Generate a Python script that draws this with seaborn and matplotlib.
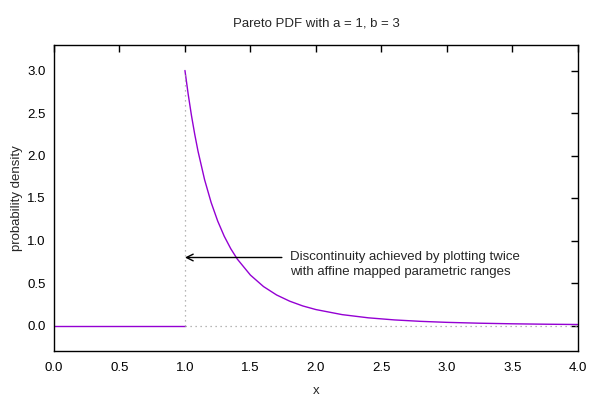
import matplotlib
matplotlib.use("Agg")
import matplotlib.pyplot as plt
import seaborn as sns

# Values
zero_x = [0.0, 1.0]
zero_y = [0.0, 0.0]
pdf_x = [1.0, 1.025, 1.05, 1.075, 1.1, 1.15, 1.2, 1.25, 1.3, 1.35, 1.4, 1.5, 1.6, 1.7, 1.8,
         1.9, 2.0, 2.2, 2.4, 2.6, 2.8, 3.0, 3.25, 3.5, 3.75, 4.0]
pdf_y = [3.0, 2.718, 2.468, 2.247, 2.049, 1.715, 1.447, 1.229, 1.050, 0.903, 0.781, 0.593,
         0.458, 0.359, 0.286, 0.230, 0.1875, 0.128, 0.0904, 0.0656, 0.0488, 0.037, 0.0269,
         0.020, 0.0152, 0.0117]
x_ticks = [0.0, 0.5, 1.0, 1.5, 2.0, 2.5, 3.0, 3.5, 4.0]
y_ticks = [0.0, 0.5, 1.0, 1.5, 2.0, 2.5, 3.0]
title = "Pareto PDF with a = 1, b = 3"
annotation = "Discontinuity achieved by plotting twice\nwith affine mapped parametric ranges"
arrow_tail = (1.74, 0.8)
arrow_head = (1.0, 0.8)
text_pos = (1.8, 0.8)

sns.set_style("white")
plt.rcParams['font.family'] = ['Liberation Sans', 'DejaVu Sans']
fs = 9.5
plt.rcParams['font.size'] = fs

fig, ax = plt.subplots(figsize=(6, 4), dpi=100)
fig.subplots_adjust(left=0.09, right=0.963, top=0.8875, bottom=0.1225)

color = "#9400D3"
sns.lineplot(x=zero_x, y=zero_y, ax=ax, color=color, lw=1, estimator=None, sort=False)
sns.lineplot(x=pdf_x, y=pdf_y, ax=ax, color=color, lw=1, estimator=None, sort=False)

# dotted guide lines
ax.plot([1, 1], [0, 3], color="#a0a0a0", lw=0.9, ls=(0, (1, 3)))
ax.plot([1, 4], [0, 0], color="#a0a0a0", lw=0.9, ls=(0, (1, 3)))

ax.annotate("", xy=arrow_head, xytext=arrow_tail,
            arrowprops=dict(arrowstyle="->", color="black", lw=1,
                            shrinkA=0, shrinkB=0, mutation_scale=12))
ax.text(text_pos[0], text_pos[1] + 0.075, annotation, ha="left", va="top",
        fontsize=fs, linespacing=1.35)

ax.set_xlim(0, 4)
ax.set_ylim(-0.3, 3.3)
ax.set_xticks(x_ticks)
ax.set_xticklabels([f"{v:.1f}" for v in x_ticks])
ax.set_yticks(y_ticks)
ax.set_yticklabels([f"{v:.1f}" for v in y_ticks])
ax.tick_params(direction="in", length=5, width=1, top=True, right=True, labelsize=fs,
               color="black", labelcolor="black")
ax.tick_params(axis="x", pad=8)
ax.tick_params(axis="y", pad=6)
for s in ax.spines.values():
    s.set_visible(True)
    s.set_color("black")
    s.set_linewidth(1)

ax.set_title(title, fontsize=fs, pad=13)
ax.set_xlabel("x", fontsize=fs, labelpad=8)
ax.set_ylabel("probability density", fontsize=fs, va="center")
ax.yaxis.set_label_coords(-0.07, 0.5)

fig.savefig("out.png", dpi=100)
